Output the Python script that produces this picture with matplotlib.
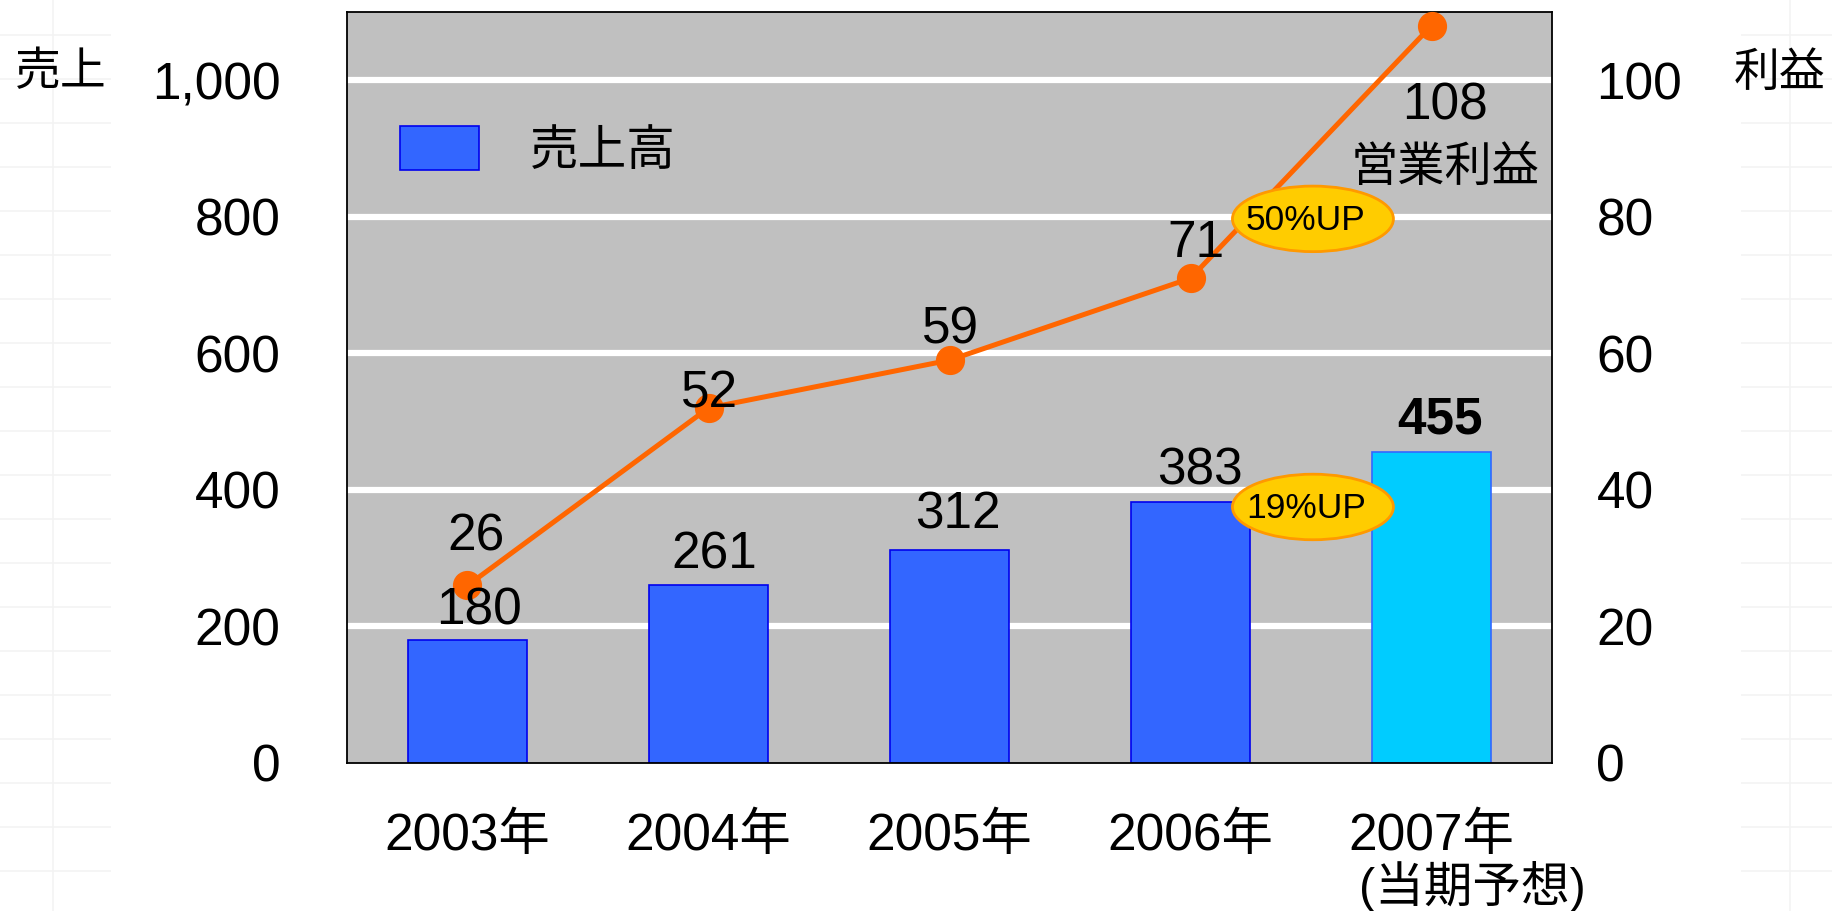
import numpy as np
import matplotlib
matplotlib.use("Agg")
import matplotlib.pyplot as plt
from matplotlib.patches import Ellipse, Rectangle, Patch
from matplotlib.lines import Line2D

plt.rcParams['font.family'] = ['Liberation Sans', 'Noto Sans CJK JP', 'DejaVu Sans']

# ---- data ----
years = ["2003年", "2004年", "2005年", "2006年", "2007年"]
forecast_note = "(当期予想)"
sales = [180, 261, 312, 383, 455]          # 売上高 (left axis)
profit = [26, 52, 59, 71, 108]             # 営業利益 (right axis)
left_ticks = [0, 200, 400, 600, 800, 1000]
left_ticklabels = ["0", "200", "400", "600", "800", "1,000"]
right_ticks = [0, 20, 40, 60, 80, 100]
right_ticklabels = ["0", "20", "40", "60", "80", "100"]
badges = [("50%UP", 3.508, 79.7), ("19%UP", 3.508, 37.5)]  # (text, x, right-axis y)

W, H = 1832, 911
fig = plt.figure(figsize=(W / 100, H / 100), dpi=100)
fig.patch.set_facecolor("white")

# faint grid-paper background strips
for y in np.arange(343 - 44 * 8, H, 44):
    fig.add_artist(Line2D([0, 1], [1 - y / H, 1 - y / H], transform=fig.transFigure,
                          color="#f3f3f3", lw=1.2, zorder=-10))
for xv in [53, 1790]:
    fig.add_artist(Line2D([xv / W, xv / W], [0, 1], transform=fig.transFigure,
                          color="#f3f3f3", lw=1.2, zorder=-10))
fig.add_artist(Rectangle((111 / W, 1 - 900 / H), (1741 - 111) / W, 900 / H,
                         transform=fig.transFigure, facecolor="white",
                         edgecolor="none", zorder=-5))

x = np.arange(len(years))
ax = fig.add_axes([347 / W, 1 - 763 / H, (1552 - 347) / W, (763 - 12) / H])
ax.set_facecolor("#C0C0C0")
ax.set_xlim(-0.5, len(years) - 0.5)
ax.set_ylim(0, 1100)

for t in left_ticks[1:]:
    ax.axhline(t, color="white", lw=4.5, zorder=1)

bar_colors = ["#3366FF"] * (len(years) - 1) + ["#00CCFF"]
bar_edges = ["#0000EE"] * (len(years) - 1) + ["#3366FF"]
bars = ax.bar(x, sales, width=0.49, color=bar_colors, edgecolor=bar_edges,
              linewidth=1.2, zorder=2)

ax.set_yticks(left_ticks)
ax.set_yticklabels(left_ticklabels, fontsize=37)
ax.set_xticks(x)
ax.set_xticklabels(years, fontsize=37)
ax.tick_params(axis="y", length=0, pad=48)
ax.tick_params(axis="x", length=0, pad=35)
for s in ax.spines.values():
    s.set_color("black")
    s.set_linewidth(1.3)

ax2 = ax.twinx()
ax2.set_ylim(0, 110)
ax2.set_yticks(right_ticks)
ax2.set_yticklabels(right_ticklabels, fontsize=37)
ax2.tick_params(axis="y", length=0, pad=32)
for s in ax2.spines.values():
    s.set_visible(False)

ax2.plot(x, profit, color="#FF6600", lw=3.6, marker="o", ms=20,
         markeredgecolor="#FF6600", zorder=3, clip_on=False)

# badges
for txt, bx, by in badges:
    ax2.add_patch(Ellipse((bx, by), 0.668, 9.6, facecolor="#FFCC00",
                          edgecolor="#FF9900", lw=2, zorder=4))
    ax2.annotate(txt, (bx, by), xytext=(-5, -1), textcoords="offset points",
                 ha="center", va="center", fontsize=25.5, zorder=5)

# profit labels
p_off = [(6, 35), (1, 10), (1, 21.5), (4, 25), (10, -58)]
for xi, v, off in zip(x, profit, p_off):
    ax2.annotate(str(v), (xi, v), xytext=off, textcoords="offset points",
                 ha="center", va="center", fontsize=37, zorder=6)
ax2.annotate("営業利益", (x[-1], profit[-1]), xytext=(10, -103),
             textcoords="offset points", ha="center", va="center",
             fontsize=34, zorder=6)

# sales labels
s_off = [(8.6, 21), (4, 21.5), (6, 25), (7, 22), (6, 23)]
for i, (xi, v, off) in enumerate(zip(x, sales, s_off)):
    ax2.annotate(str(v), (xi, v), xycoords=ax.transData, xytext=off,
                 textcoords="offset points", ha="center", va="center",
                 fontsize=37, fontweight="bold" if i == len(x) - 1 else "normal",
                 zorder=6)

# forecast note under 2007
ax.text(3.70, -0.165, forecast_note, transform=ax.get_xaxis_transform(),
        ha="left", va="center", fontsize=35, clip_on=False)

# legend
ax2.legend(handles=[Patch(facecolor="#3366FF", edgecolor="#0000EE", lw=1.2)],
           labels=["売上高"], loc="center left", bbox_to_anchor=(0.044, 0.816),
           frameon=False, fontsize=35, handlelength=1.62, handleheight=1.04,
           handletextpad=1.06, borderpad=0, borderaxespad=0)

# axis titles
fig.text(61 / W, 1 - 73 / H, "売上", ha="center", va="center", fontsize=33)
fig.text(1780 / W, 1 - 74 / H, "利益", ha="center", va="center", fontsize=33)

fig.savefig("out.png", dpi=100, facecolor=fig.get_facecolor())
